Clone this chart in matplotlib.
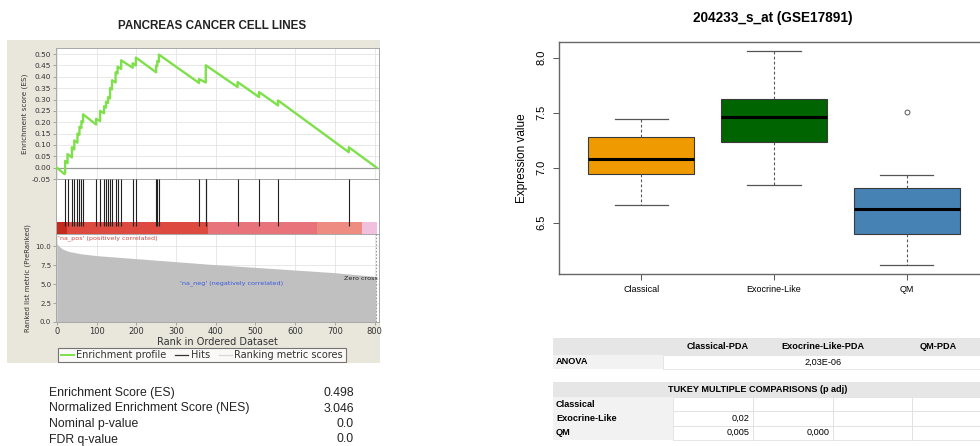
import matplotlib
matplotlib.use("Agg")
import matplotlib.pyplot as plt
from matplotlib.patches import Rectangle
from matplotlib.lines import Line2D

W, H = 980, 446

# --- GSEA panel ---
es_rank = [0, 19, 21, 21, 27, 27, 38, 38, 44, 44, 52, 52, 57, 57, 62, 62, 66, 66,
           99, 99, 109, 109, 119, 119, 124, 124, 129, 129, 134, 134, 139, 139,
           148, 148, 153, 153, 162, 162, 191, 191, 199, 199, 250, 250, 253, 253,
           257, 257, 358, 358, 375, 375, 455, 455, 509, 509, 557, 557, 735, 735, 805]
es_value = [0.0, -0.028, -0.025, 0.03, 0.02, 0.06, 0.045, 0.09, 0.08, 0.12, 0.11, 0.15,
            0.145, 0.18, 0.175, 0.205, 0.2, 0.235,
            0.19, 0.215, 0.205, 0.25, 0.24, 0.27, 0.265, 0.29, 0.285, 0.31, 0.305, 0.35,
            0.345, 0.385, 0.375, 0.42, 0.415, 0.445, 0.435, 0.473, 0.44, 0.46, 0.45, 0.485,
            0.42, 0.45, 0.447, 0.47, 0.466, 0.498, 0.373, 0.39, 0.375, 0.451, 0.355, 0.377,
            0.311, 0.333, 0.274, 0.296, 0.068, 0.09, 0.0]
hit_ranks = [21, 27, 38, 44, 52, 57, 62, 66, 99, 109, 119, 124, 129, 134, 139, 148,
             153, 162, 191, 199, 250, 253, 257, 358, 375, 376, 455, 509, 557, 735]
metric_rank = [0, 5, 15, 30, 60, 100, 200, 300, 400, 500, 600, 700, 803]
metric_value = [10.4, 10.0, 9.6, 9.3, 9.0, 8.75, 8.35, 7.95, 7.55, 7.2, 6.85, 6.5, 6.0]
bar_edges = [0, 25, 380, 655, 768, 805]
bar_colors = ["#c42a1e", "#dc4a40", "#e8737a", "#ee8c82", "#f1c0de"]

stat_names = ["Enrichment Score (ES)", "Normalized Enrichment Score (NES)",
              "Nominal p-value", "FDR q-value"]
stat_values = ["0.498", "3.046", "0.0", "0.0"]

# --- boxplot panel ---
groups = ["Classical", "Exocrine-Like", "QM"]
box_colors = ["#ee9a00", "#006400", "#4682b4"]
q1 = [6.94, 7.236, 6.397]
med = [7.079, 7.464, 6.625]
q3 = [7.282, 7.622, 6.818]
whislo = [6.661, 6.843, 6.115]
whishi = [7.443, 8.064, 6.934]
fliers = [[], [], [7.504]]

anova_cols = ["Classical-PDA", "Exocrine-Like-PDA", "QM-PDA"]
anova_value = "2,03E-06"
tukey_rows = ["Classical", "Exocrine-Like", "QM"]
tukey_vals = [["", "", "", ""], ["0,02", "", "", ""], ["0,005", "0,000", "", ""]]


def rect(x0, y0, x1, y1):
    return [x0 / W, 1 - y1 / H, (x1 - x0) / W, (y1 - y0) / H]


def fx(x):
    return x / W


def fy(y):
    return 1 - y / H


def box(fig, x0, y0, x1, y1, fc, ec="none", lw=0.0, z=-1):
    fig.add_artist(Rectangle((fx(x0), fy(y1)), (x1 - x0) / W, (y1 - y0) / H,
                             transform=fig.transFigure, facecolor=fc,
                             edgecolor=ec, linewidth=lw, zorder=z))


fig = plt.figure(figsize=(W / 100, H / 100), dpi=100)
fig.patch.set_facecolor("white")

# beige frame of the GSEA screenshot
box(fig, 7, 40, 380, 363, "#e9e6dc")

xlim = (-2, 811)
grid_c = "#e4e4e4"
spine_c = "#a8a8a8"

ax_es = fig.add_axes(rect(56, 48, 379, 179))
ax_es.plot(es_rank, es_value, color="#7ee04a", lw=1.7, zorder=3)
ax_es.axhline(0, color="#9a9a9a", lw=0.9, zorder=2)
ax_es.set_xlim(*xlim)
ax_es.set_ylim(-0.05, 0.527)
yt = [i * 0.05 - 0.05 for i in range(12)]
ax_es.set_yticks(yt)
ax_es.set_yticklabels(["%.2f" % v for v in yt], fontsize=5.3, color="#333333")
ax_es.set_xticks(range(0, 801, 100))
ax_es.set_xticklabels([])
ax_es.tick_params(axis="x", length=0)
ax_es.tick_params(axis="y", length=2, width=0.5, color="#888888", pad=1.5)
ax_es.grid(True, color=grid_c, lw=0.6)
ax_es.set_axisbelow(True)
ax_es.set_ylabel("Enrichment score (ES)", fontsize=5.2, color="#333333", labelpad=3)

ax_hits = fig.add_axes(rect(56, 179, 379, 234))
ax_hits.vlines(hit_ranks, 0.15, 1, color="#222222", lw=0.8, zorder=3)
for lo, hi, c in zip(bar_edges[:-1], bar_edges[1:], bar_colors):
    ax_hits.axvspan(lo, hi, ymin=0, ymax=0.21, color=c, lw=0, zorder=2)
ax_hits.set_xlim(*xlim)
ax_hits.set_ylim(0, 1)
ax_hits.set_xticks([])
ax_hits.set_yticks([])

ax_rank = fig.add_axes(rect(56, 234, 379, 322))
ax_rank.fill_between(metric_rank, metric_value, color="#c0c0c0", lw=0, zorder=2)
ax_rank.axvline(803, color="#888888", lw=0.6, ls=(0, (2, 2)), zorder=3)
ax_rank.set_xlim(*xlim)
ax_rank.set_ylim(0, 11.6)
ax_rank.set_yticks([0, 2.5, 5, 7.5, 10])
ax_rank.set_yticklabels(["0.0", "2.5", "5.0", "7.5", "10.0"], fontsize=5, color="#333333")
ax_rank.set_xticks(range(0, 801, 100))
ax_rank.set_xticklabels([str(v) for v in range(0, 801, 100)], fontsize=6, color="#333333")
ax_rank.tick_params(length=2, width=0.5, color="#888888", pad=1.5)
ax_rank.grid(True, color=grid_c, lw=0.6)
ax_rank.set_axisbelow(True)
ax_rank.set_xlabel("Rank in Ordered Dataset", fontsize=7, color="#333333", labelpad=1)
ax_rank.set_ylabel("Ranked list metric (PreRanked)", fontsize=5, color="#333333", labelpad=3)
ax_rank.text(3, 11.0, "'na_pos' (positively correlated)", fontsize=4.6, color="#d04a40",
             va="center")
ax_rank.text(441, 5.15, "'na_neg' (negatively correlated)", fontsize=4.6, color="#3a5ae0",
             va="center", ha="center")
ax_rank.text(722, 5.8, "Zero cross at", fontsize=4.6, color="#222222", va="center",
             clip_on=True)

for a in (ax_es, ax_hits, ax_rank):
    for s in a.spines.values():
        s.set_color(spine_c)
        s.set_linewidth(0.7)

handles = [Line2D([], [], color="#7ee04a", lw=1.4),
           Line2D([], [], color="#333333", lw=0.9),
           Line2D([], [], color="#d8d8d8", lw=0.9)]
leg = fig.legend(handles, ["Enrichment profile", "Hits", "Ranking metric scores"],
                 ncol=3, loc="center", bbox_to_anchor=(fx(202), fy(355)),
                 fontsize=7, frameon=True, fancybox=False, handlelength=1.3,
                 handletextpad=0.3, columnspacing=0.9, borderpad=0.25)
leg.get_frame().set_edgecolor("#555555")
leg.get_frame().set_linewidth(0.8)
for t in leg.get_texts():
    t.set_color("#333333")

fig.text(fx(212), fy(26), "PANCREAS CANCER CELL LINES", fontsize=8.4, weight="bold",
         ha="center", va="center", family="Liberation Sans", color="#222222")

for i, (n, v) in enumerate(zip(stat_names, stat_values)):
    y = 393 + i * 15.5
    fig.text(fx(49), fy(y), n, fontsize=8.8, ha="left", va="center",
             family="Liberation Sans", color="#222222")
    fig.text(fx(354), fy(y), v, fontsize=8.8, ha="right", va="center",
             family="Liberation Sans", color="#222222")

# --- boxplot ---
ax_b = fig.add_axes(rect(559, 42, 989, 274))
stats = [dict(med=m, q1=a, q3=b, whislo=lo, whishi=hi, fliers=f, label=g)
         for m, a, b, lo, hi, f, g in zip(med, q1, q3, whislo, whishi, fliers, groups)]
bp = ax_b.bxp(stats, positions=[1, 2, 3], widths=0.8, patch_artist=True,
              boxprops=dict(edgecolor="#3a3a3a", lw=0.8),
              medianprops=dict(color="black", lw=2.2),
              whiskerprops=dict(color="#555555", lw=0.8, ls=(0, (2.5, 2))),
              capprops=dict(color="#555555", lw=0.9), capwidths=0.4,
              flierprops=dict(marker="o", mfc="none", mec="#555555", ms=3.5, mew=0.7))
for p, c in zip(bp["boxes"], box_colors):
    p.set_facecolor(c)
ax_b.set_xlim(0.38, 3.62)
ax_b.set_ylim(6.034, 8.143)
ax_b.set_yticks([6.5, 7.0, 7.5, 8.0])
ax_b.set_yticklabels(["6.5", "7.0", "7.5", "8.0"], rotation=90, va="center",
                     fontsize=8, family="Liberation Sans")
ax_b.set_xticks([1, 2, 3])
ax_b.set_xticklabels(groups, fontsize=6.5, family="Liberation Sans")
ax_b.tick_params(axis="y", length=4, width=0.7, color="#555555", pad=5)
ax_b.tick_params(axis="x", length=4, width=0.7, color="#555555", pad=4)
ax_b.set_ylabel("Expression value", fontsize=8.5, family="Liberation Sans", labelpad=6)
for s in ax_b.spines.values():
    s.set_color("#666666")
    s.set_linewidth(1.0)
fig.text(fx(773), fy(18), "204233_s_at (GSE17891)", fontsize=9.8, weight="bold",
         ha="center", va="center", family="Liberation Sans")

# --- statistics tables ---
tf = dict(family="Liberation Sans", fontsize=6.6, va="center")
head_c = "#e6e6e6"
cell_c = "#f2f2f2"
line_c = "#dcdcdc"

box(fig, 553, 338, 980, 355, head_c)
for c, xc in zip(anova_cols, [718, 823, 938]):
    fig.text(fx(xc), fy(346.5), c, ha="center", weight="bold", **tf)
box(fig, 553, 355, 663, 369, cell_c)
box(fig, 663, 355, 980, 369, "white", ec=line_c, lw=0.5)
fig.text(fx(556), fy(362), "ANOVA", ha="left", weight="bold", **tf)
fig.text(fx(823), fy(362), anova_value, ha="center", **tf)

box(fig, 553, 382, 980, 397, head_c)
fig.text(fx(758), fy(389.5), "TUKEY MULTIPLE COMPARISONS (p adj)", ha="center",
         weight="bold", **tf)
col_x = [673, 753, 833, 912, 990]
for i, (r, vals) in enumerate(zip(tukey_rows, tukey_vals)):
    y0 = 397 + i * 14.3
    y1 = y0 + 14.3
    box(fig, 553, y0, 673, y1, cell_c)
    fig.text(fx(556), fy((y0 + y1) / 2), r, ha="left", weight="bold", **tf)
    for j, v in enumerate(vals):
        box(fig, col_x[j], y0, col_x[j + 1], y1, "white", ec=line_c, lw=0.5)
        if v:
            fig.text(fx(col_x[j + 1] - 3), fy((y0 + y1) / 2), v, ha="right", **tf)

fig.savefig("out.png", dpi=100)
